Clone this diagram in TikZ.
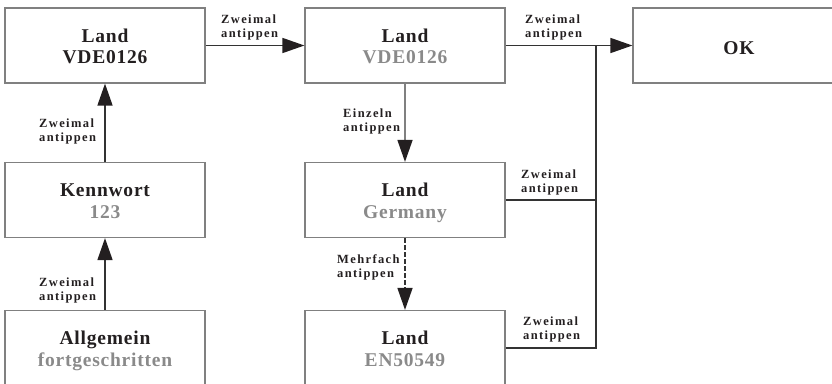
\documentclass[tikz,border=0pt]{standalone}
\usepackage{fontspec}
\setmainfont{Liberation Serif}[LetterSpace=4]
\newfontfamily\lblfont{Liberation Serif}[LetterSpace=11]
\usetikzlibrary{arrows.meta}
\definecolor{ink}{HTML}{231F20}
\definecolor{greytext}{HTML}{8A8A8A}
\definecolor{boxline}{HTML}{808080}
\definecolor{conn}{HTML}{333333}
\newcommand{\bxtext}[2]{\rule{0pt}{20pt}#1\\#2\rule[-5pt]{0pt}{5pt}}
\tikzset{
  stepbox/.style={draw=boxline, line width=1.2pt, minimum width=200pt, minimum height=75pt,
    inner sep=0pt, align=center, text=ink, font=\bfseries\fontsize{19.5}{21.5}\selectfont},
  lbl/.style={inner sep=0pt, anchor=north west, align=left, text=ink,
    font=\lblfont\bfseries\fontsize{12.5}{14}\selectfont},
  conn/.style={draw=conn, line width=1.5pt},
  arr/.style={conn, -{Triangle[length=22pt,width=15pt,color=ink,fill=ink]}},
}
\begin{document}
\begin{tikzpicture}[x=1pt,y=-1pt]
\useasboundingbox (0,0) rectangle (832,383);
% boxes
\node[stepbox] (a) at (105,45.5) {\bxtext{Land}{VDE0126}};
\node[stepbox] (b) at (405,45.5) {\bxtext{Land}{\textcolor{greytext}{VDE0126}}};
\node[stepbox, minimum width=212pt] (ok) at (739,45.5) {\rule{0pt}{19pt}OK};
\node[stepbox] (k) at (105,200) {\bxtext{Kennwort}{\textcolor{greytext}{123}}};
\node[stepbox] (g) at (405,200) {\bxtext{Land}{\textcolor{greytext}{Germany}}};
\node[stepbox] (al) at (105,348) {\bxtext{Allgemein}{\textcolor{greytext}{fortgeschritten}}};
\node[stepbox] (en) at (405,348) {\bxtext{Land}{\textcolor{greytext}{EN50549}}};
\coordinate (j) at (596,45.5);
% connectors
\draw[arr] (a) -- (b);
\draw[arr] (b) -- (ok);
\draw[arr] (k) -- (a);
\draw[arr] (al) -- (k);
\draw[arr, draw=boxline] (b) -- (g);
\draw[arr, dash pattern=on 5pt off 2pt] (g) -- (en);
\draw[conn] (g.east) -- (g.east -| j);
\draw[conn] (en.east) -| (j);
% labels
\node[lbl] (l1) at (221,14) {\rule{0pt}{9pt}Zweimal\\antippen};
\node[lbl] (l2) at (39,118) {\rule{0pt}{9pt}Zweimal\\antippen};
\node[lbl] (l3) at (39,277) {\rule{0pt}{9pt}Zweimal\\antippen};
\node[lbl] (l4) at (343,108) {\rule{0pt}{9pt}Einzeln\\antippen};
\node[lbl] (l5) at (337,254) {\rule{0pt}{9pt}Mehrfach\\antippen};
\node[lbl] (l6) at (525,14) {\rule{0pt}{9pt}Zweimal\\antippen};
\node[lbl] (l7) at (521,169) {\rule{0pt}{9pt}Zweimal\\antippen};
\node[lbl] (l8) at (523,316) {\rule{0pt}{9pt}Zweimal\\antippen};
\end{tikzpicture}
\end{document}
